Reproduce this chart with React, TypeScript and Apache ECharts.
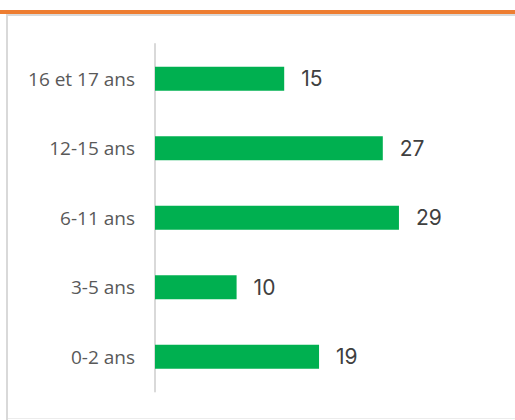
import React, { useEffect, useRef } from "react";
import * as echarts from "echarts";

const categories = ["0-2 ans", "3-5 ans", "6-11 ans", "12-15 ans", "16 et 17 ans"];
const values = [19.3, 9.6, 28.7, 26.8, 15.2];

export default function App() {
  const ref = useRef<HTMLDivElement>(null);
  useEffect(() => {
    const chart = echarts.init(ref.current!, null, { renderer: "svg" });
    chart.setOption({
      animation: false,
      backgroundColor: "#ffffff",
      textStyle: { fontFamily: "Open Sans" },
      grid: { left: 155, top: 44, width: 340, bottom: 28.5 },
      xAxis: { type: "value", min: 0, max: 40, show: false },
      yAxis: {
        type: "category",
        data: categories,
        axisLine: { show: true, lineStyle: { color: "#d9d9d9", width: 2 } },
        axisTick: { show: false },
        axisLabel: { color: "#595959", fontSize: 19, margin: 20, fontFamily: "Open Sans" },
        splitLine: { show: false },
      },
      series: [
        {
          type: "bar",
          data: values,
          barWidth: 24,
          itemStyle: { color: "#00B050" },
          label: {
            show: true,
            position: "right",
            distance: 17,
            color: "#404040",
            fontSize: 21,
            fontFamily: "Inter",
            formatter: (p: any) => String(Math.round(p.value)),
          },
        },
      ],
      graphic: [
        { type: "rect", shape: { x: 0, y: 10, width: 515, height: 4 }, style: { fill: "#ED7D31" } },
        { type: "rect", shape: { x: 6, y: 14, width: 509, height: 2 }, style: { fill: "#d9d9d9" } },
        { type: "rect", shape: { x: 6, y: 14, width: 2, height: 406 }, style: { fill: "#d9d9d9" } },
        { type: "rect", shape: { x: 8, y: 418, width: 507, height: 1 }, style: { fill: "#ececec" } },
      ],
    });
    return () => chart.dispose();
  }, []);
  return (
    <div
      ref={ref}
      style={{ position: "fixed", left: 0, top: 0, width: 515, height: 420 }}
    />
  );
}
